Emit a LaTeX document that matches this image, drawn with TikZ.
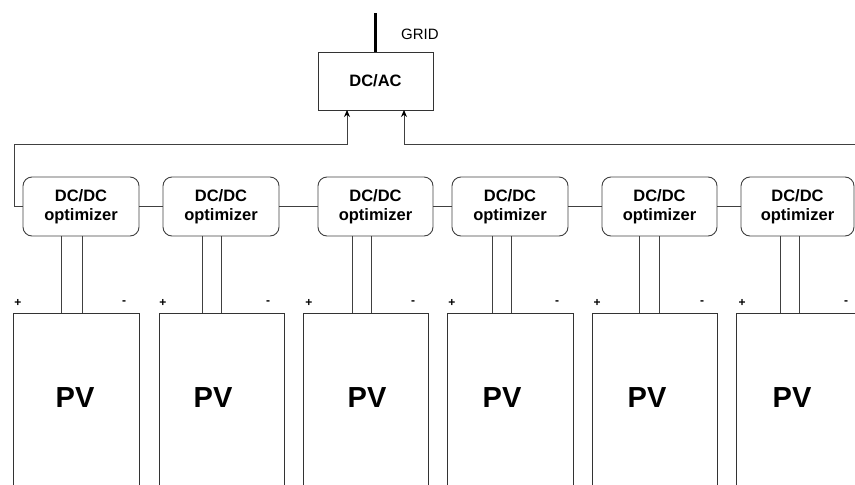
\documentclass[tikz,border=0pt]{standalone}
\usepackage{fontspec}
\setmainfont{Liberation Sans}
\usetikzlibrary{arrows.meta}
\tikzset{
  ln/.style={draw=black!75, line width=0.9pt},
  optbox/.style={ln, rounded corners=9pt, minimum width=116pt, minimum height=59pt, inner sep=0pt, align=center,
    font=\bfseries\fontsize{16.5}{19}\selectfont},
  pvbox/.style={draw=black!80, line width=0.9pt, minimum height=200pt, anchor=north, inner sep=0pt},
  pvtext/.style={font=\bfseries\fontsize{29}{30}\selectfont, inner sep=0pt},
  pm/.style={font=\bfseries\fontsize{12}{12}\selectfont, inner sep=0pt},
  arr/.style={ln, -{Stealth[length=7pt,width=6pt,color=black]}},
}
\begin{document}
\begin{tikzpicture}[x=1pt,y=-1pt]
\useasboundingbox (0,0) rectangle (855,485);
\clip (0,0) rectangle (855,485);
% inverter
\node[draw=black!80, line width=0.9pt, minimum width=115pt, minimum height=58pt, inner sep=0pt,
  font=\bfseries\fontsize{16.5}{19}\selectfont] (dcac) at (375.5,81) {DC/AC};
\coordinate (gtop) at (375,13);
\draw[black, line width=3pt] (gtop) -- (gtop |- dcac.north);
\node[anchor=west, inner sep=0pt, font=\fontsize{15}{15}\selectfont] (grid) at (401,34) {GRID};
% optimizers
\node[optbox] (o1) at (81,206.5) {DC/DC\\optimizer};
\node[optbox] (o2) at (221,206.5) {DC/DC\\optimizer};
\node[optbox, minimum width=115pt] (o3) at (375.5,206.5) {DC/DC\\optimizer};
\node[optbox] (o4) at (510,206.5) {DC/DC\\optimizer};
\node[optbox, minimum width=115pt] (o5) at (659.5,206.5) {DC/DC\\optimizer};
\node[optbox, minimum width=113pt] (o6) at (797.5,206.5) {DC/DC\\optimizer};
\draw[ln] (o1) -- (o2);
\draw[ln] (o2) -- (o3);
\draw[ln] (o3) -- (o4);
\draw[ln] (o4) -- (o5);
\draw[ln] (o5) -- (o6);
% buses to inverter
\coordinate (lc) at (14,144);
\coordinate (la) at (347,110);
\coordinate (rc) at (856,144);
\coordinate (ra) at (404,110);
\draw[arr] (o1.west) -| (lc) -| (la);
\draw[arr] (rc) -| (ra);
% PV modules
\node[pvbox, minimum width=126pt] (pv1) at (76,313) {};
\node[pvbox, minimum width=125pt] (pv2) at (221.5,313) {};
\node[pvbox, minimum width=125pt] (pv3) at (365.5,313) {};
\node[pvbox, minimum width=126pt] (pv4) at (510,313) {};
\node[pvbox, minimum width=125pt] (pv5) at (654.5,313) {};
\node[pvbox, minimum width=126pt] (pv6) at (799,313) {};
\node[pvtext] (t1) at (75,398) {PV};
\node[pvtext] (t2) at (213,398) {PV};
\node[pvtext] (t3) at (367,398) {PV};
\node[pvtext] (t4) at (502,398) {PV};
\node[pvtext] (t5) at (647,398) {PV};
\node[pvtext] (t6) at (792,398) {PV};
% wires
\foreach \i/\a/\b in {1/61/82, 2/202/221, 3/352/371, 4/492/511, 5/639/659, 6/780/799}{
  \coordinate (wa\i) at (\a,0);
  \coordinate (wb\i) at (\b,0);
  \draw[ln] (wa\i |- o\i.south) -- (wa\i |- pv\i.north);
  \draw[ln] (wb\i |- o\i.south) -- (wb\i |- pv\i.north);
}
% polarity marks
\foreach \i/\p/\m in {1/18/124, 2/163/268, 3/309/413, 4/452/557, 5/597/702, 6/742/846}{
  \node[pm] (plus\i) at (\p,303) {+};
  \node[pm] (minus\i) at (\m,303) {-};
}
\end{tikzpicture}
\end{document}
